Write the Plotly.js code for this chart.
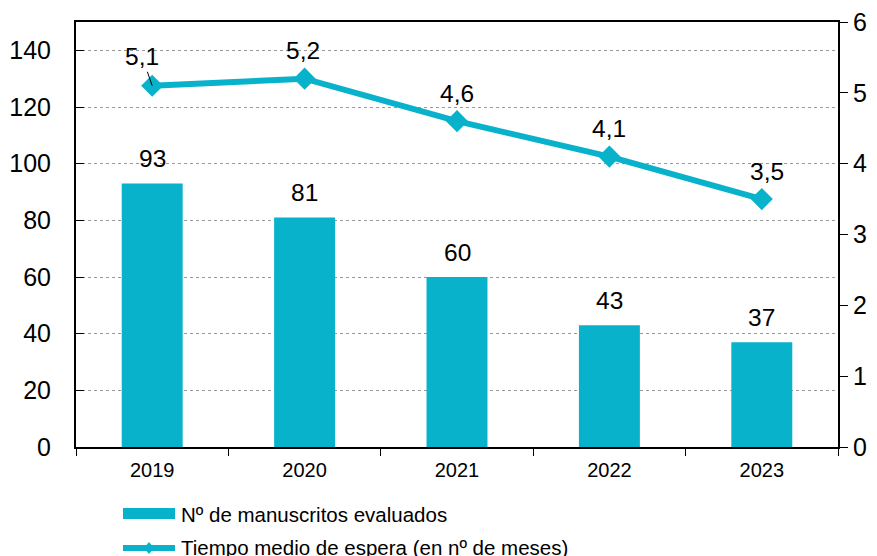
<!DOCTYPE html>
<html>
<head>
<meta charset="utf-8">
<script src="https://cdn.plot.ly/plotly-3.0.1.min.js"></script>
<style>html,body{margin:0;padding:0;background:#fff;}#chart{width:877px;height:556px;}</style>
</head>
<body>
<div id="chart"></div>
<script>
// ---- data ----
const years = ['2019', '2020', '2021', '2022', '2023'];
const manuscritos = [93, 81, 60, 43, 37];
const tiempoMedio = [5.1, 5.2, 4.6, 4.1, 3.5];
const barName = 'Nº de manuscritos evaluados';
const lineName = 'Tiempo medio de espera (en nº de meses)';

// ---- style ----
const teal = '#09B2CB';
const FONT = 'Liberation Sans, Arial, sans-serif';
const W = 877, H = 556;
const M = {l: 76, r: 39, t: 22, b: 109};
const PW = W - M.l - M.r, PH = H - M.t - M.b;
const px = X => (X - M.l) / PW;
const py = Y => (H - M.b - Y) / PH;

const traces = [
  {
    type: 'bar', x: years, y: manuscritos, name: barName,
    marker: {color: teal}, width: 0.4, showlegend: false
  },
  {
    type: 'scatter', mode: 'lines+markers', x: years, y: tiempoMedio, yaxis: 'y2',
    name: lineName, line: {color: teal, width: 6},
    marker: {symbol: 'diamond', size: 17, color: teal}, showlegend: false
  }
];

const annotations = [];
manuscritos.forEach((v, i) => {
  annotations.push({
    x: i, y: v, xref: 'x', yref: 'y', text: String(v), showarrow: false,
    yanchor: 'middle', yshift: 25, font: {family: FONT, size: 24.5, color: '#000'}
  });
});
const lineShiftX = [-10, -2, 0, 0, 5];
tiempoMedio.forEach((v, i) => {
  const a = {
    x: i, y: v, xref: 'x', yref: 'y2',
    text: v.toFixed(1).replace('.', ','),
    font: {family: FONT, size: 24.5, color: '#000'}
  };
  if (i === 0) {
    Object.assign(a, {showarrow: true, arrowhead: 0, arrowwidth: 1, arrowcolor: '#000',
      ax: lineShiftX[i], ay: -29, standoff: 0});
  } else {
    Object.assign(a, {showarrow: false, yanchor: 'middle', yshift: 28, xshift: lineShiftX[i]});
  }
  annotations.push(a);
});
// legend texts
annotations.push({xref: 'paper', yref: 'paper', x: px(179), y: py(514), xanchor: 'left', yanchor: 'middle',
  text: barName, showarrow: false, font: {family: FONT, size: 20.5, color: '#000'}});
annotations.push({xref: 'paper', yref: 'paper', x: px(179), y: py(547), xanchor: 'left', yanchor: 'middle',
  text: lineName, showarrow: false, font: {family: FONT, size: 20.5, color: '#000'}});

const shapes = [
  {type: 'rect', xref: 'paper', yref: 'paper', x0: px(123), x1: px(175), y0: py(508), y1: py(519),
    fillcolor: teal, line: {width: 0}},
  {type: 'line', xref: 'paper', yref: 'paper', x0: px(123), x1: px(175), y0: py(548), y1: py(548),
    line: {color: teal, width: 6}},
  {type: 'path', xref: 'paper', yref: 'paper',
    path: `M ${px(149)} ${py(542)} L ${px(154)} ${py(548)} L ${px(149)} ${py(554)} L ${px(144)} ${py(548)} Z`,
    fillcolor: teal, line: {width: 0}}
];

const layout = {
  width: W, height: H, margin: M,
  paper_bgcolor: '#fff', plot_bgcolor: '#fff',
  font: {family: FONT, color: '#000'},
  separators: ',.',
  showlegend: false,
  xaxis: {
    type: 'category', range: [-0.5, 4.5], autorange: false,
    showline: true, linecolor: '#000', linewidth: 2, mirror: true,
    ticks: 'outside', tickson: 'boundaries', ticklen: 7, tickcolor: '#000', tickwidth: 1,
    tickfont: {family: FONT, size: 20, color: '#000'}, showgrid: false, tickangle: 0,
    ticklabelstandoff: 4
  },
  xaxis2: {
    overlaying: 'x', anchor: 'y', range: [-0.5, 4.5], autorange: false, tickvals: [0.5, 1.5, 2.5, 3.5],
    showticklabels: false, ticks: 'inside', ticklen: 6, tickcolor: '#000', tickwidth: 1,
    showgrid: false, showline: false, zeroline: false
  },
  yaxis: {
    range: [0, 150], dtick: 20, tick0: 0, showline: true, linecolor: '#000', linewidth: 2,
    ticks: 'inside', ticklen: 8, tickcolor: '#000', showgrid: true, gridcolor: '#9a9a9a',
    griddash: 'dot', gridwidth: 1, zeroline: false,
    tickfont: {family: FONT, size: 25, color: '#000'}, ticklabelstandoff: 18
  },
  yaxis2: {
    overlaying: 'y', side: 'right', range: [0, 6], dtick: 1, showline: true, linecolor: '#000',
    linewidth: 2, ticks: 'outside', ticklen: 8, tickcolor: '#000', showgrid: false, zeroline: false,
    tickfont: {family: FONT, size: 25, color: '#000'}
  },
  yaxis3: {
    overlaying: 'y', side: 'right', anchor: 'x', range: [0, 6], dtick: 1, showticklabels: false,
    ticks: 'inside', ticklen: 8, tickcolor: '#000', showgrid: false, showline: false, zeroline: false
  },
  annotations: annotations,
  shapes: shapes
};

Plotly.newPlot('chart', traces, layout, {displayModeBar: false, staticPlot: true});
</script>
</body>
</html>
